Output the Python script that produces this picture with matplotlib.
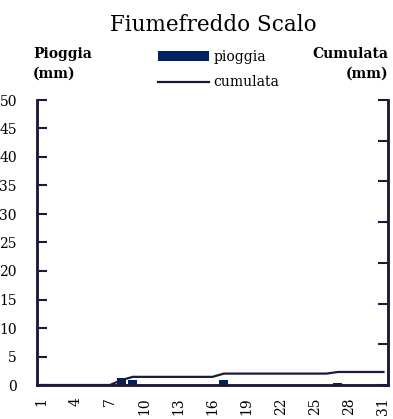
import numpy as np
import matplotlib
matplotlib.use("Agg")
import matplotlib.pyplot as plt
from matplotlib.patches import Patch
from matplotlib.lines import Line2D

plt.rcParams['font.family'] = ['DejaVu Serif']

days = list(range(1, 32))
rain = [0, 0, 0, 0, 0, 0, 0, 1.2, 0.8, 0, 0, 0, 0, 0, 0, 0, 0.8, 0, 0, 0, 0, 0, 0, 0, 0, 0, 0.4, 0, 0, 0, 0]
cumulative = np.cumsum(rain)
xtick_days = list(range(1, 32, 3))
title = "Fiumefreddo Scalo"

bar_color = "#002060"
line_color = "#1c1a3c"
spine_color = "#1c1a3c"

fig = plt.figure(figsize=(3.93, 4.19), dpi=100)
ax = fig.add_axes([37/393, 34/419, 351/393, 285/419])
ax2 = ax.twinx()

ax.bar(days, rain, width=0.8, color=bar_color, zorder=2)
ax2.plot(days, cumulative, color=line_color, lw=1.6, zorder=3)

ax.set_xlim(0.6, 31.4)
ax.set_ylim(0, 50)
ax2.set_ylim(0, 70)
ax.set_yticks(range(0, 51, 5))
ax2.set_yticks(range(0, 71, 10))
ax2.set_yticklabels([])
ax.set_xticks(xtick_days)
ax.set_xticklabels([str(d) for d in xtick_days], rotation=90, fontsize=10)

ax.tick_params(axis='y', direction='in', length=7, width=1.5, color=spine_color, labelsize=10, pad=14.4)
ax2.tick_params(axis='y', direction='in', length=7, width=1.5, color=spine_color)
ax.tick_params(axis='x', length=0, pad=9)

for a in (ax, ax2):
    a.spines['top'].set_visible(False)
    for s in ('left', 'right', 'bottom'):
        a.spines[s].set_color(spine_color)
        a.spines[s].set_linewidth(1.8)

fig.text(213/393, 1 - 31/419, title, ha='center', va='baseline', fontsize=15.5)
fig.text(33/393, 1 - 64/419, "Pioggia\n(mm)", ha='left', va='center', fontsize=10,
         fontweight='bold', linespacing=1.5)
fig.text(388/393, 1 - 64/419, "Cumulata\n(mm)", ha='right', va='center', fontsize=10,
         fontweight='bold', linespacing=1.5, multialignment='right')

handles = [Patch(facecolor=bar_color, edgecolor='none'),
           Line2D([0], [0], color=line_color, lw=1.6)]
fig.legend(handles, ["pioggia", "cumulata"], loc='center left',
           bbox_to_anchor=(158/393, 1 - 69.5/419), frameon=False,
           borderpad=0, borderaxespad=0, handlelength=3.7, handletextpad=0.3,
           labelspacing=0.85, fontsize=10)

fig.savefig("out.png", dpi=100)
